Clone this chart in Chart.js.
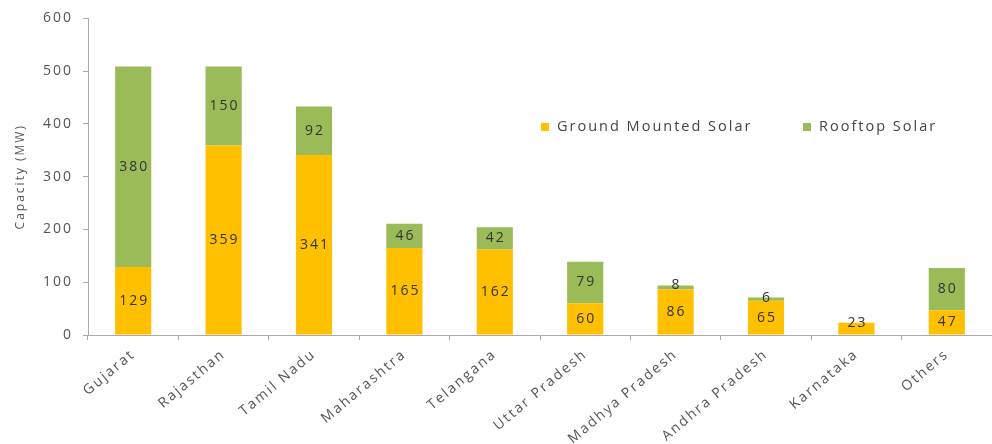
<!DOCTYPE html>
<html>
<head>
<meta charset="utf-8">
<script src="https://cdn.jsdelivr.net/npm/chart.js@4.4.1/dist/chart.umd.min.js"></script>
<style>
  html, body { margin: 0; padding: 0; background: #fff; }
  #wrap { width: 992px; height: 444px; position: relative; }
</style>
</head>
<body>
<div id="wrap"><canvas id="chart"></canvas></div>
<script>
const states = ['Gujarat', 'Rajasthan', 'Tamil Nadu', 'Maharashtra', 'Telangana',
  'Uttar Pradesh', 'Madhya Pradesh', 'Andhra Pradesh', 'Karnataka', 'Others'];
const groundMounted = [129, 359, 341, 165, 162, 60, 86, 65, 23, 47];
const rooftop = [380, 150, 92, 46, 42, 79, 8, 6, 0, 80];
const yTicks = [0, 100, 200, 300, 400, 500, 600];

const FONT = "'Open Sans', 'Liberation Sans', sans-serif";
const SPACING = '2px';

// the source text is very wide, so widen every label a little
const wideText = {
  id: 'wideText',
  beforeUpdate(chart) { chart.ctx.letterSpacing = SPACING; },
  beforeLayout(chart) { chart.ctx.letterSpacing = SPACING; },
  beforeDraw(chart) { chart.ctx.letterSpacing = SPACING; }
};

// value labels in the middle of each segment
const segLabels = {
  id: 'segLabels',
  afterDatasetsDraw(chart) {
    const ctx = chart.ctx;
    ctx.save();
    ctx.font = '14px ' + FONT;
    ctx.fillStyle = '#333';
    ctx.textAlign = 'center';
    ctx.textBaseline = 'middle';
    chart.data.datasets.forEach((ds, i) => {
      chart.getDatasetMeta(i).data.forEach((bar, j) => {
        const v = ds.data[j];
        if (!v) return;
        let y = (bar.y + bar.base) / 2;
        if (Math.abs(bar.base - bar.y) < 14) y = bar.y;
        ctx.fillText(v, bar.x + 1, y);
      });
    });
    ctx.restore();
  }
};

// legend drawn inside the plot area
const innerLegend = {
  id: 'innerLegend',
  afterDraw(chart) {
    const ctx = chart.ctx;
    ctx.save();
    ctx.font = '14.5px ' + FONT;
    ctx.textBaseline = 'middle';
    const items = [[541, '#FFC000', 'Ground Mounted Solar'], [803, '#9BBB59', 'Rooftop Solar']];
    items.forEach(([x, c, t]) => {
      ctx.fillStyle = c;
      ctx.fillRect(x, 123, 8, 8);
      ctx.fillStyle = '#444';
      ctx.fillText(t, x + 16, 127);
    });
    ctx.restore();
  }
};

new Chart(document.getElementById('chart'), {
  type: 'bar',
  data: {
    labels: states,
    datasets: [
      { label: 'Ground Mounted Solar', data: groundMounted, backgroundColor: '#FFC000', barPercentage: 0.8, categoryPercentage: 0.5 },
      { label: 'Rooftop Solar', data: rooftop, backgroundColor: '#9BBB59', barPercentage: 0.8, categoryPercentage: 0.5 }
    ]
  },
  options: {
    responsive: true,
    maintainAspectRatio: false,
    animation: false,
    layout: { padding: { top: 14, right: 0, left: 13, bottom: 0 } },
    plugins: {
      legend: { display: false },
      tooltip: { enabled: false }
    },
    scales: {
      x: {
        stacked: true,
        grid: { display: true, drawOnChartArea: false, offset: true, tickLength: 5, color: '#aaa' },
        border: { color: '#aaa' },
        ticks: { color: '#555', font: { family: FONT, size: 14 }, minRotation: 40, maxRotation: 40, padding: 6 },
        afterFit(s) { s.height = 109; }
      },
      y: {
        stacked: true,
        min: 0,
        max: 600,
        afterBuildTicks(s) { s.ticks = yTicks.map(v => ({ value: v })); },
        grid: { display: true, drawOnChartArea: false, tickLength: 5, color: '#aaa' },
        border: { color: '#aaa' },
        ticks: { color: '#555', font: { family: FONT, size: 14 }, padding: 10 },
        title: { display: true, text: 'Capacity (MW)', color: '#555', font: { family: FONT, size: 12 }, padding: 0 },
        afterFit(s) { s.width = 75; }
      }
    }
  },
  plugins: [wideText, segLabels, innerLegend]
});
</script>
</body>
</html>
